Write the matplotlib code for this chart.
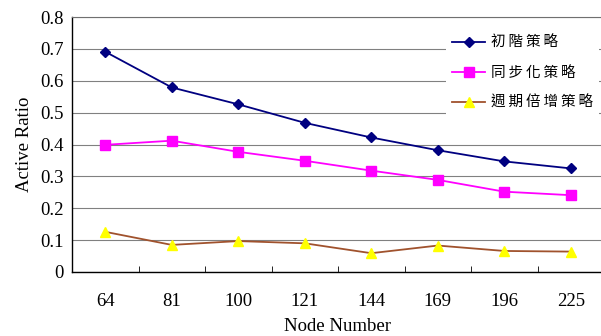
import matplotlib
matplotlib.use('Agg')
import matplotlib.pyplot as plt

# Data
nodes = ['64', '81', '100', '121', '144', '169', '196', '225']
basic = [0.691, 0.579, 0.526, 0.468, 0.422, 0.382, 0.347, 0.325]
sync = [0.399, 0.412, 0.377, 0.349, 0.318, 0.289, 0.252, 0.241]
periodic = [0.126, 0.085, 0.097, 0.090, 0.059, 0.083, 0.066, 0.064]
labels = ['初階策略', '同步化策略', '週期倍增策略']

serif = ['Liberation Serif', 'DejaVu Serif']
cjk = ['Noto Sans CJK TC', 'DejaVu Sans']

# small letter spacing like the original legend
spaced = ['\u2009'.join(s) for s in labels]

fig = plt.figure(figsize=(6.01, 3.36), dpi=100)
ax = fig.add_axes([72 / 601, 1 - 272 / 336, 532 / 601, 255 / 336])

x = range(len(nodes))
ax.plot(x, basic, color='#000080', marker='D', markersize=5, linewidth=1.3, label=spaced[0])
ax.plot(x, sync, color='#FF00FF', marker='s', markersize=7, linewidth=1.3, label=spaced[1])
ax.plot(x, periodic, color='#A0522D', marker='^', markersize=7, linewidth=1.3,
        markerfacecolor='#FFFF00', markeredgecolor='#FFFF00', label=spaced[2])

ax.set_xlim(-0.5, len(nodes) - 0.5)
ax.set_ylim(0, 0.8)
ax.set_yticks([0, 0.1, 0.2, 0.3, 0.4, 0.5, 0.6, 0.7, 0.8])
ax.set_yticklabels(['0', '0.1', '0.2', '0.3', '0.4', '0.5', '0.6', '0.7', '0.8'],
                   family=serif, fontsize=13.5)
ax.set_xticks(list(x))
ax.set_xticklabels(nodes, family=serif, fontsize=13.5)
ax.set_xticks([i + 0.5 for i in range(len(nodes) - 1)], minor=True)
ax.tick_params(axis='x', which='major', length=0, pad=15)
ax.tick_params(axis='x', which='minor', length=4, direction='in')
ax.tick_params(axis='y', length=0, pad=6)
ax.grid(axis='y', color='#808080', linewidth=0.8)
ax.set_axisbelow(True)
for s in ['left', 'bottom']:
    ax.spines[s].set_color('#000000')
    ax.spines[s].set_linewidth(1.0)
ax.spines['top'].set_color('#707070')
ax.spines['right'].set_visible(False)

ax.set_ylabel('Active Ratio', family=serif, fontsize=13.5, labelpad=5)
ax.set_xlabel('Node Number', family=serif, fontsize=13.5, labelpad=6)

leg = ax.legend(loc='upper left', bbox_to_anchor=(446 / 601, 1 - 30 / 336),
                bbox_transform=fig.transFigure, borderaxespad=0,
                prop={'family': cjk, 'size': 10.5}, frameon=True, fancybox=False,
                facecolor='white', edgecolor='none', framealpha=1,
                handlelength=2.3, labelspacing=1.1,
                borderpad=0.4, handletextpad=0.4)

fig.savefig('out.png', dpi=100)
